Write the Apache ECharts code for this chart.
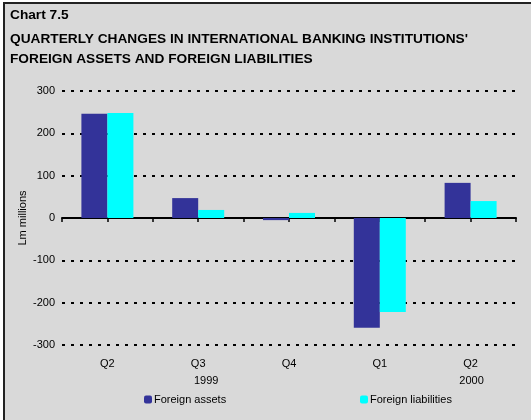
<!DOCTYPE html>
<html><head><meta charset="utf-8">
<script src="https://cdn.jsdelivr.net/npm/echarts@6/dist/echarts.min.js"></script>
<style>
html,body{margin:0;padding:0;background:#fff;overflow:hidden;width:531px;height:420px;}
#wrap{position:absolute;left:3px;top:2px;width:540px;height:430px;background:#d9d9d9;border-left:2px solid #222;border-top:2px solid #222;box-sizing:border-box;}
#chart{position:absolute;left:0;top:0;width:531px;height:420px;}
</style></head>
<body>
<div id="wrap"></div>
<div id="chart"></div>
<script>
const categories = ['Q2', 'Q3', 'Q4', 'Q1', 'Q2'];
const years = ['', '1999', '', '', '2000'];
const foreignAssets = [246, 47, -5, -259, 83];
const foreignLiabilities = [248, 19, 12, -222, 40];
const yTicks = { min: -300, max: 300, interval: 100 };
const titleLines = ['Chart 7.5', "QUARTERLY CHANGES IN INTERNATIONAL BANKING INSTITUTIONS'", 'FOREIGN ASSETS AND FOREIGN LIABILITIES'];
// half-category slots for the tick marks on the zero line
const halfSlots = categories.flatMap(c => [c + 'a', c + 'b']);

const font = 'Liberation Sans, Arial, sans-serif';
const chart = echarts.init(document.getElementById('chart'), null, {renderer: 'canvas'});
chart.setOption({
  backgroundColor: 'transparent',
  animation: false,
  title: titleLines.map((t, i) => ({
    text: t, left: 5, top: [3, 27, 47][i],
    textStyle: {fontFamily: font, fontWeight: 'bold', fontSize: 13.7, color: '#000'}
  })),
  legend: [
    {data: ['Foreign assets'], left: 139, top: 389, itemWidth: 8, itemHeight: 8,
     textStyle: {fontFamily: font, fontSize: 11, color: '#000', padding: [0,0,0,-3]}},
    {data: ['Foreign liabilities'], left: 355, top: 389, itemWidth: 8, itemHeight: 8,
     textStyle: {fontFamily: font, fontSize: 11, color: '#000', padding: [0,0,0,-3]}}
  ],
  grid: {left: 62, right: 15, top: 91, bottom: 75, containLabel: false},
  xAxis: [
    {type: 'category', data: halfSlots, position: 'bottom',
     axisLine: {onZero: true, lineStyle: {color: '#000', width: 2}},
     axisTick: {show: true, interval: 0, length: 4, lineStyle: {color: '#000', width: 1.5}},
     axisLabel: {show: false}, splitLine: {show: false}},
    {type: 'category', data: categories, position: 'bottom',
     axisLine: {show: false, onZero: false}, axisTick: {show: false},
     axisLabel: {margin: 10, fontFamily: font, fontSize: 11, color: '#000', lineHeight: 17,
       formatter: (v, i) => years[i] ? v + '\n{' + (i < 2 ? 'ya' : 'yb') + '|' + years[i] + '}' : v,
       rich: {
         ya: {fontFamily: font, fontSize: 11, color: '#000', lineHeight: 17, padding: [0, 0, 0, 16]},
         yb: {fontFamily: font, fontSize: 11, color: '#000', lineHeight: 17, padding: [0, 0, 0, 2]}
       }}}
  ],
  yAxis: {
    type: 'value', min: yTicks.min, max: yTicks.max, interval: yTicks.interval,
    name: 'Lm millions', nameLocation: 'middle', nameGap: 34, nameRotate: 90, nameMoveOverlap: false,
    nameTextStyle: {fontFamily: font, fontSize: 11, color: '#000'},
    axisLine: {show: false}, axisTick: {show: false},
    axisLabel: {margin: 7, fontFamily: font, fontSize: 11, color: '#000'},
    splitLine: {show: true, lineStyle: {color: '#000', width: 2, type: [3, 6]}}
  },
  series: [
    {name: 'Foreign assets', type: 'bar', xAxisIndex: 1, data: foreignAssets, barWidth: 26, barGap: '0%',
     itemStyle: {color: '#333399'}},
    {name: 'Foreign liabilities', type: 'bar', xAxisIndex: 1, data: foreignLiabilities, barWidth: 26, barGap: '0%',
     itemStyle: {color: '#00ffff'}}
  ]
});
</script>
</body></html>
